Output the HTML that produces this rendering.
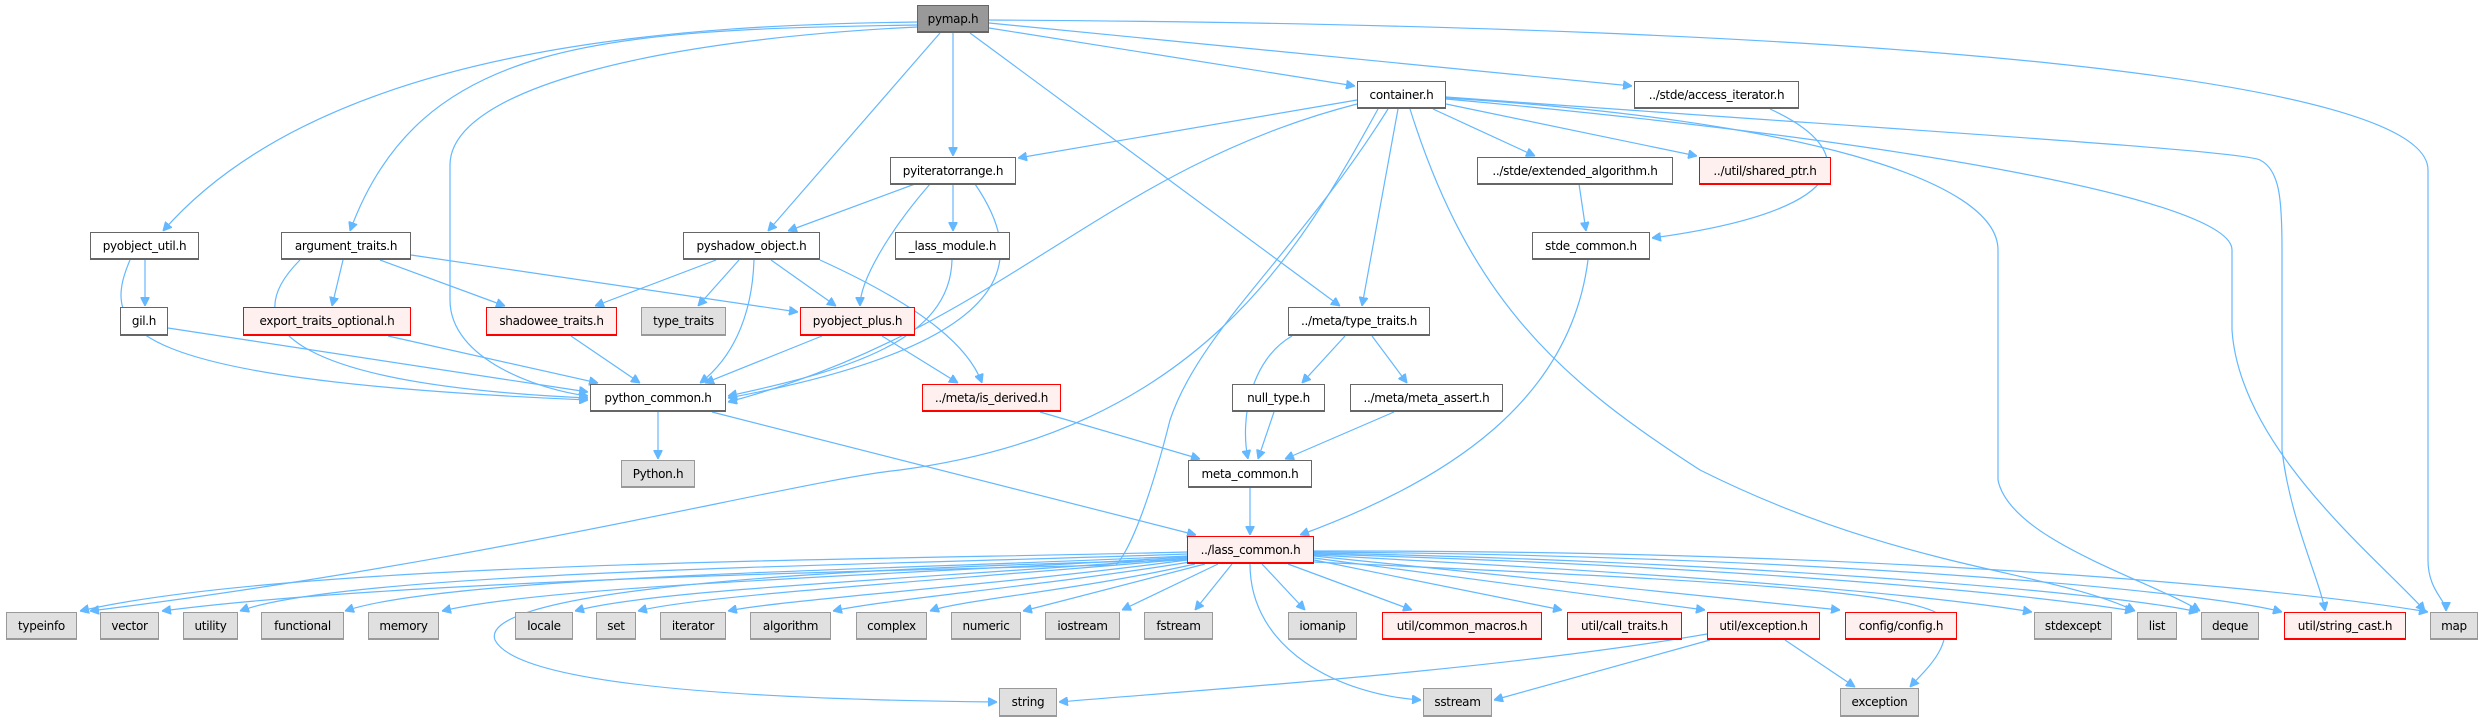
<!DOCTYPE html>
<html><head><meta charset="utf-8"><style>
body{margin:0;width:2484px;height:719px;background:#fff;overflow:hidden;position:relative;font-family:"DejaVu Sans","Liberation Sans",sans-serif}
.n{position:absolute;box-sizing:border-box;border:1px solid #666;border-bottom-width:2px;background:#fff;font-size:12px;display:flex;align-items:center;justify-content:center;white-space:nowrap;color:#000;letter-spacing:-0.3px}
.r{border-color:#f00;background:#fff0f0}
.g{border-color:#999;background:#e0e0e0}
.d{background:#999;border-color:#666}
svg{position:absolute;left:0;top:0}
path{fill:none;stroke:#63b8ff;stroke-width:1.2}
</style></head><body>
<svg width="2484" height="719">
<defs><marker id="a" viewBox="0 0 10 10" refX="10" refY="5" markerWidth="9" markerHeight="9" orient="auto" markerUnits="userSpaceOnUse"><path d="M0 0 L10 5 L0 10 z" style="fill:#63b8ff;stroke:#63b8ff"/></marker></defs>
<g marker-end="url(#a)">
<path d="M917 22 C700 25 330 40 163 231"/>
<path d="M917 25 C600 30 420 40 350 231"/>
<path d="M917 27 C650 40 450 90 450 165 L450 300 C450 360 540 390 588 396"/>
<path d="M940 33 L768 231"/>
<path d="M953 33 L953 156"/>
<path d="M970 33 L1340 306"/>
<path d="M989 28 L1355 86"/>
<path d="M989 23 L1632 86"/>
<path d="M989 20 C1900 25 2428 80 2428 170 L2428 560 C2428 590 2446 600 2446 611"/>
<path d="M915 184 L788 231"/>
<path d="M930 184 C890 230 860 280 860 306"/>
<path d="M953 184 L953 231"/>
<path d="M975 184 C1020 250 1040 340 728 398"/>
<path d="M1357 100 L1018 158"/>
<path d="M1357 104 C1100 170 1000 330 728 402"/>
<path d="M1378 109 C1300 250 1200 430 900 470 C800 480 500 560 90 611"/>
<path d="M1388 109 C1300 250 1200 330 1170 420 C1150 500 1130 550 1116 565 C900 570 400 580 162 611"/>
<path d="M1398 109 L1362 306"/>
<path d="M1410 109 C1470 300 1560 380 1700 470 C1900 570 2050 570 2135 611"/>
<path d="M1433 109 L1535 156"/>
<path d="M1446 104 L1697 156"/>
<path d="M1446 98 C1800 120 1998 180 1998 250 L1998 480 C2010 540 2150 580 2200 611"/>
<path d="M1446 97 C1900 130 2240 150 2260 160 C2280 170 2282 200 2282 250 L2282 450 C2290 520 2320 580 2325 611"/>
<path d="M1446 99 C1900 140 2232 200 2232 250 L2232 330 C2240 450 2380 560 2425 611"/>
<path d="M1770 109 C1860 150 1860 210 1652 238"/>
<path d="M1579 184 L1586 231"/>
<path d="M1588 260 C1570 400 1450 480 1300 535"/>
<path d="M1345 336 L1302 383"/>
<path d="M1372 336 L1407 383"/>
<path d="M1292 336 C1250 360 1240 420 1248 459"/>
<path d="M1274 412 L1258 459"/>
<path d="M1394 412 L1285 459"/>
<path d="M1250 488 L1250 535"/>
<path d="M1040 412 L1200 459"/>
<path d="M658 412 L658 459"/>
<path d="M712 412 L1196 535"/>
<path d="M145 260 L145 306"/>
<path d="M130 260 C100 330 120 380 588 400"/>
<path d="M168 328 L588 392"/>
<path d="M300 260 C230 330 300 385 588 398"/>
<path d="M343 260 L332 306"/>
<path d="M380 260 L505 306"/>
<path d="M411 255 L798 312"/>
<path d="M388 336 L598 383"/>
<path d="M571 336 L640 383"/>
<path d="M716 260 L595 306"/>
<path d="M739 260 L698 306"/>
<path d="M771 260 L836 306"/>
<path d="M754 260 C752 320 730 360 700 383"/>
<path d="M820 260 C930 310 970 350 982 383"/>
<path d="M952 260 C950 340 850 370 728 396"/>
<path d="M822 336 L705 383"/>
<path d="M882 336 L958 383"/>
<path d="M1187 552 C900 560 300 560 80 611"/>
<path d="M1187 554 C900 565 350 570 240 611"/>
<path d="M1187 556 C900 570 450 575 345 611"/>
<path d="M1187 557 C900 575 550 585 442 611"/>
<path d="M1187 558 C900 580 650 590 575 611"/>
<path d="M1187 559 C950 580 700 595 638 611"/>
<path d="M1187 560 C1000 585 780 600 728 611"/>
<path d="M1190 562 C1050 585 880 600 833 611"/>
<path d="M1195 564 C1080 590 960 600 930 611"/>
<path d="M1205 564 L1023 611"/>
<path d="M1218 564 L1122 610"/>
<path d="M1232 564 L1195 610"/>
<path d="M1262 564 L1305 610"/>
<path d="M1288 564 L1412 610"/>
<path d="M1314 560 L1562 610"/>
<path d="M1314 558 L1705 610"/>
<path d="M1314 556 L1840 610"/>
<path d="M1314 555 C1600 570 1900 590 2032 612"/>
<path d="M1314 554 C1700 565 2000 590 2134 611"/>
<path d="M1314 553 C1700 560 2100 590 2198 612"/>
<path d="M1314 552 C1800 555 2200 590 2282 612"/>
<path d="M1314 551 C1900 550 2300 590 2428 612"/>
<path d="M1190 560 C700 570 480 600 495 640 C520 690 800 700 997 702"/>
<path d="M1250 564 C1250 650 1340 695 1421 700"/>
<path d="M1314 562 C1700 580 1930 590 1945 620 C1950 650 1925 670 1910 687"/>
<path d="M1707 634 C1500 670 1200 690 1059 702"/>
<path d="M1710 640 L1494 700"/>
<path d="M1785 640 L1855 687"/>
</g></svg>
<div class="n d" style="left:917px;top:5px;width:72px;height:28px">pymap.h</div>
<div class="n" style="left:890px;top:157px;width:126px;height:28px">pyiteratorrange.h</div>
<div class="n" style="left:90px;top:232px;width:109px;height:28px">pyobject_util.h</div>
<div class="n" style="left:281px;top:232px;width:130px;height:28px">argument_traits.h</div>
<div class="n" style="left:683px;top:232px;width:137px;height:28px">pyshadow_object.h</div>
<div class="n" style="left:895px;top:232px;width:115px;height:28px">_lass_module.h</div>
<div class="n" style="left:120px;top:307px;width:48px;height:29px">gil.h</div>
<div class="n r" style="left:243px;top:307px;width:168px;height:29px">export_traits_optional.h</div>
<div class="n r" style="left:486px;top:307px;width:131px;height:29px">shadowee_traits.h</div>
<div class="n g" style="left:641px;top:307px;width:85px;height:29px">type_traits</div>
<div class="n r" style="left:800px;top:307px;width:115px;height:29px">pyobject_plus.h</div>
<div class="n" style="left:1357px;top:81px;width:89px;height:28px">container.h</div>
<div class="n" style="left:1634px;top:81px;width:165px;height:28px">../stde/access_iterator.h</div>
<div class="n" style="left:1477px;top:157px;width:196px;height:28px">../stde/extended_algorithm.h</div>
<div class="n r" style="left:1699px;top:157px;width:132px;height:28px">../util/shared_ptr.h</div>
<div class="n" style="left:1532px;top:232px;width:118px;height:28px">stde_common.h</div>
<div class="n" style="left:1288px;top:307px;width:142px;height:29px">../meta/type_traits.h</div>
<div class="n" style="left:590px;top:384px;width:136px;height:28px">python_common.h</div>
<div class="n r" style="left:922px;top:384px;width:139px;height:28px">../meta/is_derived.h</div>
<div class="n" style="left:1232px;top:384px;width:93px;height:28px">null_type.h</div>
<div class="n" style="left:1350px;top:384px;width:153px;height:28px">../meta/meta_assert.h</div>
<div class="n g" style="left:621px;top:460px;width:74px;height:28px">Python.h</div>
<div class="n" style="left:1188px;top:460px;width:124px;height:28px">meta_common.h</div>
<div class="n r" style="left:1187px;top:536px;width:127px;height:28px">../lass_common.h</div>
<div class="n g" style="left:6px;top:612px;width:71px;height:28px">typeinfo</div>
<div class="n g" style="left:100px;top:612px;width:59px;height:28px">vector</div>
<div class="n g" style="left:183px;top:612px;width:55px;height:28px">utility</div>
<div class="n g" style="left:261px;top:612px;width:83px;height:28px">functional</div>
<div class="n g" style="left:368px;top:612px;width:71px;height:28px">memory</div>
<div class="n g" style="left:515px;top:612px;width:58px;height:28px">locale</div>
<div class="n g" style="left:596px;top:612px;width:40px;height:28px">set</div>
<div class="n g" style="left:660px;top:612px;width:66px;height:28px">iterator</div>
<div class="n g" style="left:750px;top:612px;width:81px;height:28px">algorithm</div>
<div class="n g" style="left:856px;top:612px;width:71px;height:28px">complex</div>
<div class="n g" style="left:951px;top:612px;width:70px;height:28px">numeric</div>
<div class="n g" style="left:1045px;top:612px;width:75px;height:28px">iostream</div>
<div class="n g" style="left:1144px;top:612px;width:69px;height:28px">fstream</div>
<div class="n g" style="left:1288px;top:612px;width:69px;height:28px">iomanip</div>
<div class="n r" style="left:1382px;top:612px;width:160px;height:28px">util/common_macros.h</div>
<div class="n r" style="left:1567px;top:612px;width:115px;height:28px">util/call_traits.h</div>
<div class="n r" style="left:1707px;top:612px;width:113px;height:28px">util/exception.h</div>
<div class="n r" style="left:1845px;top:612px;width:112px;height:28px">config/config.h</div>
<div class="n g" style="left:2034px;top:612px;width:78px;height:28px">stdexcept</div>
<div class="n g" style="left:2137px;top:612px;width:40px;height:28px">list</div>
<div class="n g" style="left:2201px;top:612px;width:58px;height:28px">deque</div>
<div class="n r" style="left:2284px;top:612px;width:122px;height:28px">util/string_cast.h</div>
<div class="n g" style="left:2430px;top:612px;width:48px;height:28px">map</div>
<div class="n g" style="left:999px;top:688px;width:58px;height:29px">string</div>
<div class="n g" style="left:1423px;top:688px;width:69px;height:29px">sstream</div>
<div class="n g" style="left:1840px;top:688px;width:79px;height:29px">exception</div>
</body></html>
